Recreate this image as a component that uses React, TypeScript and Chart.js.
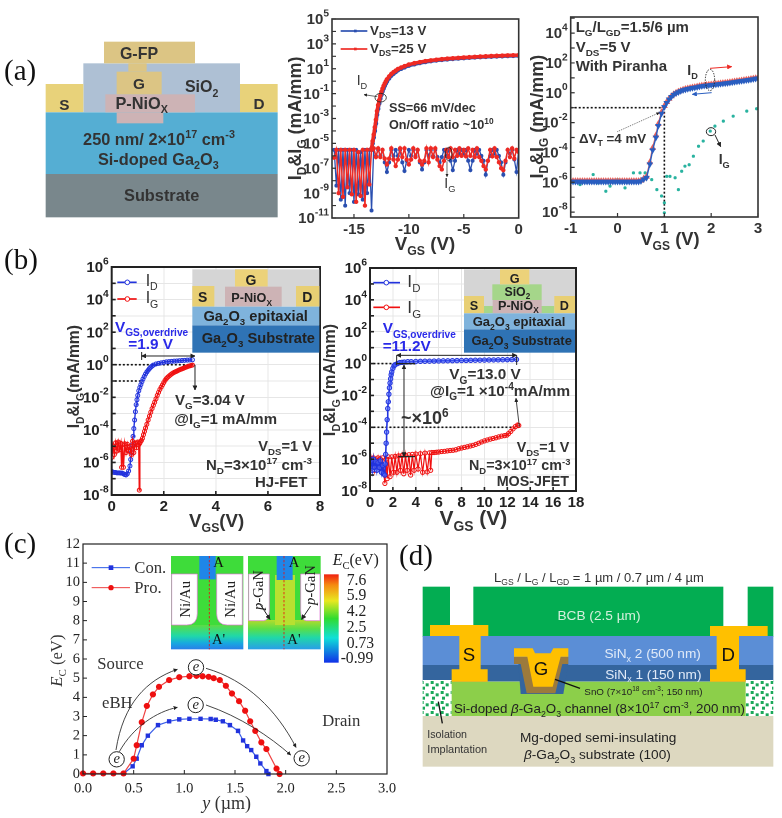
import React, { useEffect, useRef } from "react";
import { Chart, registerables } from "chart.js";

Chart.register(...registerables);

const SANS = "'Liberation Sans', Arial, sans-serif";
const SERIF = "'Liberation Serif', 'Times New Roman', serif";

// ---------- panel (a), middle ----------
const a1IdX = [-13.4,-13.3,-13.2,-13.1,-13,-12.9,-12.8,-12.7,-12.6,-12.5,-12.4,-12.3,-12.2,-12.1,-12,-11.8,-11.6,-11.4,-11.2,-11,-10.7,-10.4,-10,-9.5,-9,-8.5,-8,-7.5,-7,-6.5,-6,-5.5,-5,-4.5,-4,-3.5,-3,-2.5,-2,-1.5,-1,-0.5,0];
const a1Id13 = [3e-6,1e-5,3e-5,1e-4,4e-4,0.002,0.006,0.016,0.04,0.08,0.15,0.26,0.42,0.65,0.95,1.7,2.8,4,5.5,7.5,10,13,18,23,29,35,41,47,52,57,62,67,72,77,82,86,90,94,98,102,106,109,112];
const a1Id25 = [4e-6,1.5e-5,5e-5,2e-4,8e-4,0.004,0.012,0.03,0.07,0.14,0.25,0.42,0.65,0.95,1.4,2.4,3.8,5.3,7,9.5,12.5,16,22,28,34,41,47,53,59,65,70,75,80,85,90,95,100,105,109,113,118,122,126];
const a1IgX = [-16.8,-16.6,-16.4,-16.2,-16,-15.8,-15.6,-15.4,-15.2,-15,-14.8,-14.6,-14.4,-14.2,-14,-13.8,-13.6,-13.4,-13.2,-13,-12.8,-12.6,-12.4,-12.2,-12,-11.8,-11.6,-11.4,-11.2,-11,-10.8,-10.6,-10.4,-10.2,-10,-9.8,-9.6,-9.4,-9.2,-9,-8.8,-8.6,-8.4,-8.2,-8,-7.8,-7.6,-7.4,-7.2,-7,-6.8,-6.6,-6.4,-6.2,-6,-5.8,-5.6,-5.4,-5.2,-5,-4.8,-4.6,-4.4,-4.2,-4,-3.8,-3.6,-3.4,-3.2,-3,-2.8,-2.6,-2.4,-2.2,-2,-1.8,-1.6,-1.4,-1.2,-1,-0.8,-0.6,-0.4,-0.2,0];
const a1Ig13 = [3e-6,4e-9,3e-6,3e-10,3e-6,1e-10,3e-6,1e-9,3e-6,2e-10,3e-6,8e-10,2e-6,3e-10,3e-6,1e-9,3e-6,4e-11,4e-6,1e-6,3e-6,1e-6,3e-6,3e-7,5e-8,3e-7,3e-6,1e-6,3e-6,1e-6,3e-6,3e-7,6e-8,4e-7,3e-6,1e-6,3e-6,1e-6,3e-6,3e-7,8e-8,3e-7,3e-6,1e-6,3e-6,1e-6,3e-6,8e-7,3e-7,8e-7,3e-6,1e-6,3e-6,4e-7,7e-8,4e-7,3e-6,1.5e-6,3e-6,1.5e-6,3e-6,4e-7,7e-8,4e-7,3e-6,1.5e-6,3e-6,1e-6,4e-7,3e-8,4e-7,1e-6,3e-6,1.5e-6,3e-6,1e-6,3e-7,3e-8,3e-7,3e-6,1.5e-6,3e-6,5e-7,5e-8,3e-6];
const a1Ig25 = [7e-7,3e-6,1e-9,3e-6,5e-10,3e-6,3e-9,3e-6,8e-10,3e-6,2e-10,2e-6,6e-10,3e-6,1e-10,3e-6,5e-9,3e-6,4e-6,8e-7,4e-6,8e-7,3e-6,6e-7,2e-7,6e-7,4e-6,5e-7,1.5e-7,5e-7,4e-6,8e-7,4e-6,5e-7,2e-7,5e-7,4e-6,8e-7,3e-6,4e-7,2e-7,4e-7,4e-6,3e-7,4e-6,8e-7,4e-6,5e-7,1.5e-7,8e-8,4e-7,3e-6,8e-7,4e-6,8e-7,3e-6,1e-6,4e-6,1e-6,3e-6,9e-7,4e-6,1e-6,3e-6,8e-7,4e-6,8e-7,4e-7,1.5e-7,8e-8,4e-7,3e-6,9e-7,4e-6,8e-7,3e-7,1e-7,7e-8,4e-7,3e-6,8e-7,4e-6,6e-7,3e-6,2e-6];
const a1XTicks = [-15, -10, -5, 0];
const a1YTicks = [1e-11,1e-10,1e-9,1e-8,1e-7,1e-6,1e-5,1e-4,1e-3,1e-2,1e-1,1,10,100,1e3,1e4,1e5];
const a1YLabels = [-11,-9,-7,-5,-3,-1,1,3,5];

// ---------- panel (a), right ----------
const a2IdX = [-1,-0.95,-0.9,-0.85,-0.8,-0.75,-0.7,-0.65,-0.6,-0.55,-0.5,-0.45,-0.4,-0.35,-0.3,-0.25,-0.2,-0.15,-0.1,-0.05,0,0.05,0.1,0.15,0.2,0.25,0.3,0.35,0.4,0.45,0.5,0.56,0.62,0.69,0.75,0.82,0.87,0.94,1,1.05,1.1,1.15,1.2,1.25,1.3,1.35,1.4,1.45,1.5,1.55,1.6,1.65,1.7,1.75,1.8,1.85,1.9,1.95,2,2.05,2.1,2.15,2.2,2.25,2.3,2.35,2.4,2.45,2.5,2.55,2.6,2.65,2.7,2.75,2.8,2.85,2.9,2.95,3];
const a2IdFwd = [1.2e-6,1.2e-6,1.2e-6,1.2e-6,1.2e-6,1.2e-6,1.2e-6,1.2e-6,1.2e-6,1.2e-6,1.2e-6,1.2e-6,1.2e-6,1.2e-6,1.2e-6,1.2e-6,1.2e-6,1.2e-6,1.2e-6,1.2e-6,1.2e-6,1.2e-6,1.2e-6,1.2e-6,1.2e-6,1.2e-6,1.2e-6,1.2e-6,1.2e-6,1.2e-6,1.3e-6,1.8e-6,2.4e-6,2.2e-5,2e-4,1.4e-3,8e-3,0.05,0.13,0.24,0.4,0.58,0.8,1,1.2,1.4,1.6,1.8,1.95,2.1,2.25,2.4,2.6,2.8,3,3.15,3.3,3.45,3.6,3.7,3.85,4.05,4.25,4.4,4.6,4.8,5.1,5.4,5.7,6,6.3,6.6,7,7.4,7.8,8.3,8.8,9.4,10];
const a2IdBwd = [1.1e-6,1.1e-6,1.1e-6,1.1e-6,1.1e-6,1.1e-6,1.1e-6,1.1e-6,1.1e-6,1.1e-6,1.1e-6,1.1e-6,1.1e-6,1.1e-6,1.1e-6,1.1e-6,1.1e-6,1.1e-6,1.1e-6,1.1e-6,1.1e-6,1.1e-6,1.1e-6,1.1e-6,1.1e-6,1.1e-6,1.1e-6,1.1e-6,1.1e-6,1.1e-6,1.2e-6,1.6e-6,2e-6,1.6e-5,1.4e-4,1e-3,6e-3,0.04,0.11,0.21,0.36,0.53,0.74,0.93,1.1,1.3,1.5,1.65,1.8,1.95,2.1,2.25,2.4,2.6,2.8,2.95,3.05,3.2,3.35,3.45,3.6,3.75,3.95,4.1,4.3,4.5,4.75,5,5.3,5.6,5.9,6.2,6.5,6.9,7.3,7.7,8.2,8.8,9.3];
const a2IgX = [-0.98,-0.8,-0.59,-0.52,-0.41,-0.25,-0.16,0,0.09,0.16,0.34,0.48,0.59,0.73,0.84,0.94,1,1,1.05,1.12,1.23,1.3,1.37,1.44,1.53,1.62,1.73,1.83,1.98,2.08,2.26,2.47,2.76,2.97];
const a2Ig = [1e-6,7e-7,1.2e-6,3.3e-6,9e-7,2.5e-7,5.5e-7,1.5e-6,1.2e-6,4.2e-7,4.3e-6,4.3e-6,4.3e-6,1.5e-6,3.2e-7,1.2e-7,4.2e-8,9e-9,2.5e-6,2.5e-6,2e-6,3.2e-7,5.5e-6,1.2e-5,1.5e-5,5.6e-5,2.6e-4,5.8e-4,2.7e-3,5.8e-3,0.0126,0.027,0.059,0.085];
const a2XTicks = [-1, 0, 1, 2, 3];
const a2YTicks = [1e-8,1e-7,1e-6,1e-5,1e-4,1e-3,1e-2,1e-1,1,10,100,1e3,1e4,1e5];
const a2YLabels = [-8,-6,-4,-2,0,2,4];

// ---------- panel (b), left ----------
const b1IdX = [0,0.05,0.1,0.15,0.2,0.25,0.3,0.35,0.4,0.45,0.5,0.55,0.6,0.65,0.7,0.73,0.76,0.79,0.82,0.85,0.88,0.91,0.94,0.97,1,1.04,1.08,1.12,1.16,1.2,1.25,1.3,1.35,1.4,1.45,1.5,1.55,1.6,1.7,1.8,1.9,2,2.1,2.2,2.3,2.4,2.5,2.6,2.7,2.8,2.9,3,3.1];
const b1Id = [2.8e-7,2.5e-7,2.4e-7,2.4e-7,2.3e-7,2.3e-7,2.3e-7,2.2e-7,2.2e-7,2e-7,1.8e-7,1.7e-7,2e-7,3e-7,6e-7,1.5e-6,4e-6,1.2e-5,4e-5,1.2e-4,4e-4,1.3e-3,3.5e-3,7e-3,0.013,0.025,0.04,0.06,0.09,0.13,0.19,0.27,0.36,0.46,0.58,0.7,0.82,0.95,1.1,1.2,1.3,1.4,1.5,1.55,1.6,1.65,1.7,1.75,1.8,1.85,1.9,1.95,2];
const b1IgX = [0,0.05,0.1,0.15,0.2,0.25,0.3,0.35,0.38,0.41,0.45,0.5,0.55,0.6,0.65,0.7,0.75,0.8,0.85,0.9,0.95,1,1.04,1.06,1.08,1.1,1.14,1.18,1.22,1.26,1.3,1.35,1.4,1.45,1.5,1.55,1.6,1.65,1.7,1.75,1.8,1.85,1.9,1.95,2,2.05,2.1,2.15,2.2,2.25,2.3,2.35,2.4,2.45,2.5,2.55,2.6,2.65,2.7,2.75,2.8,2.85,2.9,2.95,3,3.05,3.1];
const b1Ig = [2e-6,1e-5,3e-6,1.6e-5,5e-6,1.8e-5,6e-6,1.5e-5,5e-7,1.2e-5,5e-7,1.4e-5,4e-6,1.3e-5,5e-6,1e-5,3e-6,2e-5,4e-6,1.6e-5,8e-6,1.8e-5,1.2e-5,2e-8,1.5e-5,1.8e-5,2.2e-5,3e-5,5e-5,8e-5,1.3e-4,2.2e-4,4e-4,7e-4,1.2e-3,2e-3,3.2e-3,5e-3,8e-3,0.013,0.02,0.03,0.042,0.058,0.08,0.11,0.14,0.17,0.2,0.235,0.27,0.305,0.34,0.37,0.4,0.44,0.48,0.52,0.56,0.6,0.65,0.7,0.75,0.8,0.85,0.9,0.95];
const b1XTicks = [0, 2, 4, 6, 8];
const bYTicks = [1e-8,1e-7,1e-6,1e-5,1e-4,1e-3,1e-2,1e-1,1,10,100,1e3,1e4,1e5,1e6];
const bYLabels = [-8,-6,-4,-2,0,2,4,6];
const b1GuideX = [0.12, 1.2];
const b1GuideLow = [0.1, 0.1];
const b1GuideTopX = [0.12, 3.2];
const b1GuideTop = [1, 1];

// ---------- panel (b), right ----------
const b2IdX = [0,0.1,0.2,0.3,0.4,0.5,0.6,0.7,0.8,0.9,1,1.1,1.2,1.28,1.33,1.37,1.41,1.45,1.5,1.55,1.6,1.65,1.7,1.75,1.8,1.85,1.9,2,2.1,2.2,2.4,2.6,2.8,3,3.3,3.6,4,4.4,4.8,5.2,5.6,6,6.4,6.8,7.2,7.6,8,8.4,8.8,9.2,9.6,10,10.4,10.8,11.2,11.6,12,12.4,12.8];
const b2Id = [3e-7,8e-7,2e-7,1e-6,3e-7,7e-7,2e-7,6e-7,3e-7,8e-7,1.5e-7,4e-7,1.2e-7,1e-7,5e-7,2e-6,1e-5,5e-5,3e-4,1.5e-3,4e-3,0.012,0.03,0.06,0.11,0.2,0.3,0.5,0.72,0.85,1,1.15,1.2,1.25,1.3,1.32,1.35,1.38,1.4,1.42,1.44,1.46,1.48,1.5,1.52,1.54,1.56,1.58,1.6,1.62,1.64,1.66,1.68,1.7,1.72,1.74,1.76,1.78,1.8];
const b2IgX = [0,0.1,0.2,0.3,0.4,0.5,0.6,0.7,0.8,0.9,1,1.1,1.2,1.3,1.4,1.5,1.6,1.75,1.9,2.05,2.2,2.35,2.5,2.65,2.8,2.95,3.1,3.25,3.4,3.55,3.7,3.85,4,4.2,4.4,4.6,4.8,5,5.2,5.3,5.4,5.6,5.8,6,6.25,6.5,6.75,7,7.25,7.5,7.75,8,8.25,8.5,8.75,9,9.25,9.5,9.75,10,10.25,10.5,10.75,11,11.25,11.5,11.75,11.95,12.1,12.3,12.5,12.7,12.9,13];
const b2Ig = [2.5e-7,1.1e-6,3e-7,1.2e-6,2e-7,9e-7,4e-7,1.2e-6,3e-7,1e-6,2.5e-7,1.2e-6,1.5e-7,3e-8,1e-6,6e-8,1.4e-6,8e-8,1.4e-6,1.5e-7,1.5e-6,1.5e-7,1.6e-6,2e-7,1.7e-6,1.2e-7,1.8e-6,2e-7,1.9e-6,1e-7,2e-6,2e-7,2.1e-6,2.4e-7,2.2e-6,1.5e-7,2.4e-6,1.6e-7,2.5e-6,2e-7,2.6e-6,2.6e-6,2.7e-6,2.8e-6,3e-6,3.1e-6,3.3e-6,3.5e-6,3.6e-6,3.9e-6,4.5e-6,5e-6,5.5e-6,6e-6,6.7e-6,7.4e-6,8.5e-6,1e-5,1.2e-5,1.4e-5,1.6e-5,1.8e-5,2e-5,2.2e-5,2.5e-5,2.8e-5,3e-5,3.2e-5,4e-5,5.5e-5,8e-5,1.1e-4,1.4e-4,1.3e-4];
const b2XTicks = [0,2,4,6,8,10,12,14,16,18];
const b2GuideTopX = [0.3, 4];
const b2GuideTop = [1, 1];
const b2GuideLowX = [0.3, 13];
const b2GuideLow = [1e-4, 1e-4];

// ---------- panel (c) ----------
const cConX = [0,0.1,0.2,0.3,0.4,0.49,0.53,0.58,0.64,0.74,0.85,0.95,1.05,1.16,1.26,1.31,1.38,1.45,1.53,1.58,1.62,1.66,1.71,1.75,1.81,1.83];
const cCon = [0.02,0.02,0.02,0.02,0.02,0.4,0.8,1.5,2,2.55,2.75,2.85,2.88,2.88,2.87,2.83,2.75,2.55,2.25,1.75,1.45,1.25,0.9,0.55,0.15,0];
const cProX = [0,0.1,0.2,0.3,0.4,0.5,0.53,0.58,0.63,0.69,0.75,0.85,0.95,1.05,1.12,1.18,1.24,1.29,1.35,1.41,1.47,1.54,1.6,1.65,1.7,1.76,1.81,1.91,1.94];
const cPro = [0.03,0.03,0.03,0.03,0.03,0.8,1.5,2.7,3.55,4.15,4.55,4.9,5.05,5.1,5.12,5.1,5.07,5,4.9,4.6,4.2,3.8,3.3,2.75,2.25,1.65,1.3,0.28,0];
const cXTicks = [0, 0.5, 1, 1.5, 2, 2.5, 3];
const cYTicks = [0,1,2,3,4,5,6,7,8,9,10,11,12];
const cBarLabels = ["7.6", "5.9", "4.2", "2.5", "0.73", "-0.99"];

const zip = (xs: number[], ys: number[]) => xs.map((x, i) => ({ x, y: ys[i] }));

type Box = { l: number; t: number; r: number; b: number };

function useChart(ref: React.RefObject<HTMLCanvasElement | null>, build: () => any) {
  useEffect(() => {
    if (!ref.current) return;
    const c = new Chart(ref.current, build());
    return () => c.destroy();
  }, []);
}

function config(o: {
  box: Box; xMin: number; xMax: number; xTicks: number[]; xFmt?: (v: number) => string; xPad?: number;
  yLog: boolean; yMin: number; yMax: number; yTicks: number[]; exps?: number[];
  font: any; color: string; grid: string; frame: number; datasets: any[];
}) {
  const { box } = o;
  const frame = {
    id: "frame",
    afterDraw(ch: any) {
      const a = ch.chartArea;
      const g = ch.ctx;
      g.save();
      g.strokeStyle = o.color;
      g.lineWidth = o.frame;
      g.strokeRect(a.left, a.top, a.right - a.left, a.bottom - a.top);
      // inward tick marks, placed by the scales
      g.lineWidth = Math.max(1, o.frame - 0.4);
      g.beginPath();
      ch.scales.x.ticks.forEach((t: any) => {
        const x = ch.scales.x.getPixelForValue(t.value);
        g.moveTo(x, a.bottom); g.lineTo(x, a.bottom - 4);
      });
      ch.scales.y.ticks.forEach((t: any) => {
        const y = ch.scales.y.getPixelForValue(t.value);
        g.moveTo(a.left, y); g.lineTo(a.left + 4, y);
      });
      g.stroke();
      // power-of-ten labels with a true superscript, placed by the y scale
      if (o.exps) {
        const size = o.font.size;
        g.fillStyle = o.color;
        g.textBaseline = "middle";
        g.textAlign = "right";
        o.exps.forEach((e) => {
          const y = ch.scales.y.getPixelForValue(Math.pow(10, e));
          g.font = `bold ${size * 0.68}px ${SANS}`;
          const w = g.measureText(String(e)).width;
          g.fillText(String(e), a.left - 3, y - size * 0.36);
          g.font = `bold ${size}px ${SANS}`;
          g.fillText("10", a.left - 3 - w, y + 1);
        });
      }
      g.restore();
    },
  };
  return {
    type: "scatter",
    data: { datasets: o.datasets },
    plugins: [frame],
    options: {
      responsive: false,
      animation: false,
      devicePixelRatio: 2,
      layout: { padding: { left: 0, top: box.t, right: 782 - box.r, bottom: 0 } },
      plugins: { legend: { display: false }, tooltip: { enabled: false } },
      scales: {
        x: {
          type: "linear", min: o.xMin, max: o.xMax,
          afterFit: (s: any) => { s.height = 818 - box.b; },
          afterBuildTicks: (s: any) => { s.ticks = o.xTicks.map((value) => ({ value })); },
          ticks: { font: o.font, color: o.color, padding: o.xPad ?? 3, maxRotation: 0, autoSkip: false,
            callback: (v: number) => (o.xFmt ? o.xFmt(v) : String(v)) },
          grid: { color: o.grid, drawTicks: false },
          border: { display: false },
        },
        y: {
          type: o.yLog ? "logarithmic" : "linear", min: o.yMin, max: o.yMax,
          afterFit: (s: any) => { s.width = box.l; },
          afterBuildTicks: (s: any) => { s.ticks = o.yTicks.map((value) => ({ value })); },
          ticks: { display: !o.exps, font: o.font, color: o.color, padding: 3, autoSkip: false, callback: (v: number) => String(v) },
          grid: { color: o.grid, drawTicks: false },
          border: { display: false },
        },
      },
    },
  };
}

const line = (data: any[], color: string, w: number, r: number, extra: any = {}) => ({
  data, showLine: true, borderColor: color, backgroundColor: color, borderWidth: w,
  pointRadius: r, pointBorderWidth: 1, pointBackgroundColor: color, pointBorderColor: color, tension: 0, ...extra,
});
const guide = (data: any[]) => ({
  data, showLine: true, borderColor: "#111", borderWidth: 1.6, borderDash: [2, 2], pointRadius: 0,
});

function Rich(p: { x: number; y: number; s: string; size: number; anchor?: string; weight?: any; fill?: string; family?: string; rotate?: boolean }) {
  const { x, y, s, size, anchor = "start", weight = "bold", fill = "#333", family = SANS, rotate } = p;
  const re = /_\{([^}]*)\}|\^\{([^}]*)\}|\*([^*]+)\*|([^_^*]+)/g;
  const parts: React.ReactNode[] = [];
  let level = 0;
  let m: RegExpExecArray | null;
  let i = 0;
  while ((m = re.exec(s))) {
    const target = m[1] !== undefined ? size * 0.28 : m[2] !== undefined ? -size * 0.38 : 0;
    const small = m[1] !== undefined || m[2] !== undefined;
    const txt = m[1] ?? m[2] ?? m[3] ?? m[4];
    parts.push(
      <tspan key={i++} dy={target - level} fontSize={small ? size * 0.66 : size} fontStyle={m[3] !== undefined ? "italic" : undefined}>
        {txt}
      </tspan>
    );
    level = target;
  }
  return (
    <text x={x} y={y} textAnchor={anchor as any} fontSize={size} fontWeight={weight} fontFamily={family} fill={fill} xmlSpace="preserve"
      transform={rotate ? `rotate(-90 ${x} ${y})` : undefined}>
      {parts}
    </text>
  );
}

const Z = (p: { x: number; y: number; children: React.ReactNode }) => (
  <g transform={`translate(${p.x} ${p.y}) scale(0.33333)`}>{p.children}</g>
);

function Arrow(p: { d: string; color?: string; w?: number; both?: boolean; dash?: string; head?: string }) {
  const head = p.head ?? "ah";
  return <path d={p.d} fill="none" stroke={p.color ?? "#222"} strokeWidth={p.w ?? 3} strokeDasharray={p.dash} markerEnd={`url(#${head})`} markerStart={p.both ? `url(#${head}s)` : undefined} />;
}

const GOLD = "#e8d27a";
const NIO = "#cdb3b5";
const GATE = "#dcc584";

function Overlay() {
  return (
    <svg width={782} height={818} style={{ position: "absolute", left: 0, top: 0 }}>
      <defs>
        {[["ah", "#222"], ["ar", "#ee2a24"], ["ab", "#2a5ec0"]].map(([id, c]) => (
          <React.Fragment key={id}>
            <marker id={id} markerWidth="5" markerHeight="5" refX="4.5" refY="2.5" orient="auto"><path d="M0 0 L5 2.5 L0 5 Z" fill={c} /></marker>
            <marker id={id + "s"} markerWidth="5" markerHeight="5" refX="0.5" refY="2.5" orient="auto"><path d="M5 0 L0 2.5 L5 5 Z" fill={c} /></marker>
          </React.Fragment>
        ))}
        <pattern id="dots" width="30" height="30" patternUnits="userSpaceOnUse">
          <rect width="30" height="30" fill="#fff" />
          <rect x="2" y="3" width="9" height="9" fill="#1aa85a" />
          <rect x="17" y="10" width="9" height="9" fill="#1aa85a" />
          <rect x="6" y="20" width="9" height="9" fill="#1aa85a" />
        </pattern>
        <linearGradient id="bar" x1="0" y1="0" x2="0" y2="1">
          <stop offset="0" stopColor="#f02010" /><stop offset="0.12" stopColor="#f58a10" /><stop offset="0.3" stopColor="#e8e820" />
          <stop offset="0.5" stopColor="#30dc30" /><stop offset="0.72" stopColor="#10e0d8" /><stop offset="1" stopColor="#1030e8" />
        </linearGradient>
        <linearGradient id="low" x1="0" y1="0" x2="0" y2="1">
          <stop offset="0" stopColor="#5bdc45" /><stop offset="0.45" stopColor="#20d8a8" /><stop offset="0.75" stopColor="#18a8e0" /><stop offset="1" stopColor="#2a7ee8" />
        </linearGradient>
        <linearGradient id="low2" x1="0" y1="0" x2="0" y2="1">
          <stop offset="0" stopColor="#b4dc2c" /><stop offset="0.3" stopColor="#5ade48" /><stop offset="0.6" stopColor="#20d8a8" /><stop offset="1" stopColor="#2a9ee8" />
        </linearGradient>
      </defs>

      {/* panel labels */}
      <text x={4} y={80} fontFamily={SERIF} fontSize={29} fill="#111">(a)</text>
      <text x={4} y={269} fontFamily={SERIF} fontSize={29} fill="#111">(b)</text>
      <text x={4} y={553} fontFamily={SERIF} fontSize={29} fill="#111">(c)</text>
      <text x={399} y={565} fontFamily={SERIF} fontSize={29} fill="#111">(d)</text>

      {/* (a) schematic */}
      <Z x={0} y={30}>
        <rect x={250} y={100} width={470} height={147} fill="#aec0d4" />
        <rect x={137} y={162} width={113} height={85} fill={GOLD} />
        <rect x={720} y={162} width={113} height={85} fill={GOLD} />
        <rect x={137} y={247} width={696} height={185} fill="#55aed3" />
        <rect x={137} y={432} width={696} height={130} fill="#79878c" />
        <rect x={316} y={193} width={269} height={54} fill={NIO} />
        <rect x={350} y={247} width={140} height={33} fill={NIO} />
        <rect x={350} y={125} width={135} height={68} fill={GATE} />
        <rect x={385} y={100} width={55} height={25} fill={GATE} />
        <rect x={312} y={35} width={273} height={65} fill={GATE} />
        <Rich x={417} y={88} s="G-FP" size={48} anchor="middle" />
        <Rich x={417} y={178} s="G" size={46} anchor="middle" />
        <Rich x={605} y={187} s="SiO_{2}" size={48} anchor="middle" />
        <Rich x={193} y={240} s="S" size={46} anchor="middle" />
        <Rich x={777} y={238} s="D" size={46} anchor="middle" />
        <Rich x={425} y={236} s="P-NiO_{X}" size={49} anchor="middle" />
        <Rich x={477} y={344} s="250 nm/ 2×10^{17} cm^{-3}" size={49} anchor="middle" />
        <Rich x={475} y={404} s="Si-doped Ga_{2}O_{3}" size={49} anchor="middle" />
        <Rich x={485} y={513} s="Substrate" size={49} anchor="middle" />
      </Z>

      {/* (a) middle */}
      <Z x={290} y={0}>
        <path d="M152 93 H232" stroke="#2a4fb0" strokeWidth={5} /><rect x={192} y={89} width={8} height={8} fill="#2a4fb0" />
        <path d="M152 147 H232" stroke="#ee2a24" strokeWidth={5} /><rect x={192} y={143} width={8} height={8} fill="#ee2a24" />
        <Rich x={240} y={104} s="V_{DS}=13 V" size={40} />
        <Rich x={240} y={158} s="V_{DS}=25 V" size={40} />
        <Rich x={200} y={254} s="I_{D}" size={42} weight="normal" />
        <Arrow d="M262 290 L222 284" w={2} />
        <ellipse cx={272} cy={293} rx={17} ry={13} fill="none" stroke="#222" strokeWidth={2.5} />
        <Rich x={297} y={335} s="SS=66 mV/dec" size={38} />
        <Rich x={297} y={387} s="On/Off ratio ~10^{10}" size={38} />
        <ellipse cx={476} cy={462} rx={10} ry={20} fill="none" stroke="#222" strokeWidth={2.5} />
        <Arrow d="M471 484 L471 530" w={2} />
        <Rich x={463} y={565} s="I_{G}" size={42} weight="normal" />
        <Rich x={32} y={355} s="I_{D}&I_{G} (mA/mm)" size={54} anchor="middle" rotate />
        <Rich x={405} y={750} s="V_{GS} (V)" size={56} anchor="middle" />
      </Z>

      {/* (a) right */}
      <Z x={530} y={0}>
        <Rich x={137} y={95} s="L_{G}/L_{GD}=1.5/6 µm" size={45} />
        <Rich x={137} y={155} s="V_{DS}=5 V" size={45} />
        <Rich x={137} y={214} s="With Piranha" size={45} />
        <Rich x={472} y={225} s="I_{D}" size={42} />
        <ellipse cx={540} cy={240} rx={14} ry={32} fill="none" stroke="#222" strokeWidth={3} strokeDasharray="4 4" />
        <Arrow d="M540 205 L605 200" color="#ee2a24" head="ar" w={3} />
        <Arrow d="M545 278 L487 283" color="#2a5ec0" head="ab" w={3} />
        <Rich x={147} y={428} s="ΔV_{T} =4 mV" size={40} />
        <Arrow d="M262 395 L388 338" w={2} dash="3 3" />
        <ellipse cx={543} cy={395} rx={14} ry={12} fill="none" stroke="#222" strokeWidth={3} />
        <Arrow d="M555 405 L572 440" w={3} />
        <Rich x={566} y={492} s="I_{G}" size={42} />
        <Rich x={40} y={350} s="I_{D}&I_{G} (mA/mm)" size={54} anchor="middle" rotate />
        <Rich x={420} y={736} s="V_{GS} (V)" size={55} anchor="middle" />
      </Z>

      {/* (b) left */}
      <Z x={0} y={250}>
        <rect x={577} y={58} width={381} height={112} fill="#d5d5d5" />
        <rect x={705} y={58} width={98} height={52} fill="#ecd27a" />
        <rect x={675} y={110} width={170} height={60} fill={NIO} />
        <rect x={577} y={108} width={66} height={62} fill="#e8cf74" />
        <rect x={888} y={108} width={70} height={62} fill="#e8cf74" />
        <rect x={577} y={170} width={381} height={56} fill="#7fb3dc" />
        <rect x={577} y={226} width={381} height={82} fill="#2f73b5" />
        <Rich x={753} y={104} s="G" size={42} anchor="middle" fill="#222" />
        <Rich x={608} y={156} s="S" size={42} anchor="middle" fill="#222" />
        <Rich x={922} y={156} s="D" size={42} anchor="middle" fill="#222" />
        <Rich x={755} y={156} s="P-NiO_{X}" size={38} anchor="middle" fill="#222" />
        <Rich x={767} y={214} s="Ga_{2}O_{3} epitaxial" size={44} anchor="middle" fill="#222" />
        <Rich x={775} y={279} s="Ga_{2}O_{3} Substrate" size={44} anchor="middle" fill="#222" />
        <path d="M352 97 H410" stroke="#2233dd" strokeWidth={5} /><circle cx={382} cy={97} r={7} fill="#fff" stroke="#2233dd" strokeWidth={3} />
        <path d="M352 147 H410" stroke="#f01010" strokeWidth={5} /><circle cx={382} cy={147} r={7} fill="#fff" stroke="#f01010" strokeWidth={3} />
        <Rich x={437} y={108} s="I_{D}" size={48} weight="normal" />
        <Rich x={437} y={160} s="I_{G}" size={48} weight="normal" />
        <Rich x={345} y={245} s="V_{GS,overdrive}" size={46} fill="#2a2ae8" />
        <Rich x={385} y={297} s="=1.9 V" size={46} fill="#2a2ae8" />
        <Arrow d="M425 318 L585 318" both w={3} />
        <path d="M425 306 V330" stroke="#222" strokeWidth={3} />
        <Arrow d="M585 345 L585 420" w={3} />
        <Rich x={525} y={465} s="V_{G}=3.04 V" size={45} />
        <Rich x={523} y={522} s="@I_{G}=1 mA/mm" size={45} />
        <Rich x={775} y={604} s="V_{DS}=1 V" size={44} />
        <Rich x={618} y={660} s="N_{D}=3×10^{17} cm^{-3}" size={45} />
        <Rich x={765} y={712} s="HJ-FET" size={45} />
        <Rich x={238} y={380} s="I_{D}&I_{G}(mA/mm)" size={47} anchor="middle" rotate />
        <Rich x={650} y={830} s="V_{GS}(V)" size={56} anchor="middle" />
      </Z>

      {/* (b) right */}
      <Z x={320} y={250}>
        <rect x={432} y={58} width={333} height={132} fill="#d5d5d5" />
        <rect x={490} y={168} width={213} height={22} fill="#a5d68a" />
        <rect x={517} y={103} width={148} height={47} fill="#a5d68a" />
        <rect x={518} y={150} width={147} height={40} fill={NIO} />
        <rect x={540} y={58} width={88} height={45} fill="#ecd27a" />
        <rect x={432} y={138} width={60} height={52} fill="#e8cf74" />
        <rect x={703} y={138} width={62} height={52} fill="#e8cf74" />
        <rect x={432} y={190} width={333} height={48} fill="#7fb3dc" />
        <rect x={432} y={238} width={333} height={70} fill="#2f73b5" />
        <Rich x={584} y={98} s="G" size={38} anchor="middle" fill="#222" />
        <Rich x={592} y={137} s="SiO_{2}" size={37} anchor="middle" fill="#222" />
        <Rich x={462} y={180} s="S" size={38} anchor="middle" fill="#222" />
        <Rich x={733} y={180} s="D" size={38} anchor="middle" fill="#222" />
        <Rich x={595} y={179} s="P-NiO_{X}" size={38} anchor="middle" fill="#222" />
        <Rich x={597} y={228} s="Ga_{2}O_{3} epitaxial" size={39} anchor="middle" fill="#222" />
        <Rich x={605} y={285} s="Ga_{2}O_{3} Substrate" size={39} anchor="middle" fill="#222" />
        <path d="M160 98 H240" stroke="#2233dd" strokeWidth={5} /><circle cx={199} cy={98} r={7} fill="#fff" stroke="#2233dd" strokeWidth={3} />
        <path d="M160 172 H240" stroke="#f01010" strokeWidth={5} /><circle cx={199} cy={172} r={7} fill="#fff" stroke="#f01010" strokeWidth={3} />
        <Rich x={262} y={112} s="I_{D}" size={52} weight="normal" />
        <Rich x={262} y={188} s="I_{G}" size={52} weight="normal" />
        <Rich x={188} y={250} s="V_{GS,overdrive}" size={46} fill="#2a2ae8" />
        <Rich x={188} y={302} s="=11.2V" size={46} fill="#2a2ae8" />
        <Arrow d="M230 316 L590 316" both w={3} />
        <path d="M230 316 V345 M590 316 V345" stroke="#222" strokeWidth={3} />
        <Arrow d="M252 345 L252 620" both w={3} />
        <path d="M235 620 H285 M228 341 H285" stroke="#222" strokeWidth={4} />
        <Rich x={243} y={522} s="~×10^{6}" size={54} />
        <Rich x={388} y={388} s="V_{G}=13.0 V" size={46} />
        <Rich x={330} y={437} s="@I_{G}=1 ×10^{-4}mA/mm" size={46} />
        <Arrow d="M598 530 L588 445" w={2.5} />
        <Rich x={590} y={607} s="V_{DS}=1 V" size={43} />
        <Rich x={447} y={660} s="N_{D}=3×10^{17} cm^{-3}" size={43} />
        <Rich x={530} y={708} s="MOS-JFET" size={43} />
        <Rich x={46} y={390} s="I_{D}&I_{G} (mA/mm)" size={49} anchor="middle" rotate />
        <Rich x={460} y={825} s="V_{GS} (V)" size={63} anchor="middle" />
      </Z>

      {/* (c) */}
      <Z x={0} y={530}>
        <path d="M275 113 H390" stroke="#2a5be8" strokeWidth={3} /><rect x={326} y={106} width={14} height={14} fill="#2233dd" />
        <path d="M275 173 H390" stroke="#ee4040" strokeWidth={3} /><circle cx={333} cy={173} r={8} fill="#ee1010" />
        <Rich x={403} y={130} s="Con." size={50} weight="normal" family={SERIF} />
        <Rich x={403} y={190} s="Pro." size={50} weight="normal" family={SERIF} />
        {/* left inset */}
        <rect x={513} y={78} width={217} height={207} fill="#3edc3a" />
        <rect x={513} y={285} width={217} height={73} fill="url(#low)" />
        <rect x={598} y={78} width={49} height={70} fill="#1f86e8" />
        <path d="M515 132 H592 V250 Q592 285 560 285 H515 Z M727 132 H650 V250 Q650 285 682 285 H727 Z" fill="#fff" stroke="#e070d8" strokeWidth={2} />
        <path d="M628 78 V358" stroke="#ee1010" strokeWidth={2.5} strokeDasharray="7 5" />
        <text transform="translate(570 208) rotate(-90)" textAnchor="middle" fontFamily={SERIF} fontSize={44} fill="#222">Ni/Au</text>
        <text transform="translate(705 208) rotate(-90)" textAnchor="middle" fontFamily={SERIF} fontSize={44} fill="#222">Ni/Au</text>
        <Rich x={640} y={110} s="A" size={44} weight="normal" family={SERIF} fill="#111" />
        <Rich x={636} y={342} s="A'" size={44} weight="normal" family={SERIF} fill="#111" />
        {/* right inset */}
        <rect x={744} y={78} width={218} height={212} fill="#3edc3a" />
        <rect x={744} y={270} width={218} height={88} fill="url(#low2)" />
        <rect x={825} y={135} width={60} height={150} fill="#b8e030" />
        <rect x={830} y={78} width={48} height={72} fill="#1f86e8" />
        <path d="M746 132 H808 V240 Q808 272 790 272 H746 Z M960 132 H902 V240 Q902 272 920 272 H960 Z" fill="#fff" stroke="#e070d8" strokeWidth={2} />
        <path d="M852 78 V358" stroke="#ee1010" strokeWidth={2.5} strokeDasharray="7 5" />
        <text transform="translate(790 180) rotate(-90)" textAnchor="middle" fontFamily={SERIF} fontSize={44} fill="#222"><tspan fontStyle="italic">p</tspan>-GaN</text>
        <text transform="translate(945 165) rotate(-90)" textAnchor="middle" fontFamily={SERIF} fontSize={44} fill="#222"><tspan fontStyle="italic">p</tspan>-GaN</text>
        <Arrow d="M780 222 L810 268" w={3} />
        <Arrow d="M932 228 L905 268" w={3} />
        <Rich x={866} y={110} s="A" size={44} weight="normal" family={SERIF} fill="#111" />
        <Rich x={862} y={342} s="A'" size={44} weight="normal" family={SERIF} fill="#111" />
        {/* colour bar */}
        <rect x={972} y={133} width={44} height={265} fill="url(#bar)" />
        <Rich x={998} y={104} s="*E*_{C}(eV)" size={48} weight="normal" family={SERIF} fill="#222" />
        {cBarLabels.map((t, i) => (
          <text key={t} x={t.startsWith("-") ? 1022 : 1040} y={164 + i * 47.2} fontFamily={SERIF} fontSize={47} fill="#222">{t}</text>
        ))}
        {/* energy-barrier notes */}
        <Rich x={292} y={416} s="Source" size={50} weight="normal" family={SERIF} />
        <Rich x={306} y={535} s="eBH" size={50} weight="normal" family={SERIF} />
        <Rich x={967} y={588} s="Drain" size={50} weight="normal" family={SERIF} />
        <Arrow d="M348 660 C370 520 440 450 532 418" w={2.5} />
        <Arrow d="M358 665 C400 590 470 545 532 532" w={2.5} />
        <Arrow d="M618 415 C740 450 830 540 888 652" w={2.5} />
        <Arrow d="M618 525 C720 560 810 620 872 675" w={2.5} />
        {[[350, 688], [588, 412], [587, 525], [905, 685]].map(([cx, cy]) => (
          <g key={cx}>
            <circle cx={cx} cy={cy} r={23} fill="#fff" stroke="#222" strokeWidth={3} />
            <text x={cx} y={cy + 11} textAnchor="middle" fontFamily={SERIF} fontStyle="italic" fontSize={44} fill="#222">e</text>
          </g>
        ))}
        <Rich x={185} y={392} s="*E*_{C} (eV)" size={50} anchor="middle" weight="normal" family={SERIF} rotate />
        <Rich x={680} y={838} s="*y* (µm)" size={54} anchor="middle" weight="normal" family={SERIF} />
      </Z>

      {/* (d) */}
      <Z x={400} y={540}>
        <Rich x={597} y={125} s="L_{GS} / L_{G} / L_{GD} = 1 µm / 0.7 µm / 4 µm" size={39} anchor="middle" weight="normal" />
        <rect x={68} y={140} width={82} height={150} fill="#03ad52" />
        <rect x={220} y={140} width={750} height={150} fill="#03ad52" />
        <rect x={1043} y={140} width={77} height={150} fill="#03ad52" />
        <rect x={68} y={288} width={1052} height={87} fill="#5b8ed6" />
        <rect x={68} y={375} width={1052} height={50} fill="#34659e" />
        <rect x={68} y={420} width={87} height={108} fill="url(#dots)" />
        <rect x={1037} y={420} width={83} height={108} fill="url(#dots)" />
        <rect x={155} y={425} width={882} height={103} fill="#8ccf4a" />
        <rect x={68} y={528} width={1052} height={152} fill="#ddd8c0" />
        <path d="M90 255 H265 V288 H242 V388 H263 V425 H155 V388 H178 V288 H90 Z" fill="#ffc000" />
        <path d="M930 258 H1103 V288 H1017 V388 H1037 V425 H930 V388 H950 V288 H930 Z" fill="#ffc000" />
        <path d="M355 372 H505 L490 462 H362 Z" fill="#34659e" />
        <path d="M342 350 H505 V372 H487 L466 460 H380 L362 372 H342 Z" fill="#9c7a3c" />
        <path d="M342 325 H398 L405 340 H452 L460 325 H505 V350 H482 L458 440 H400 L382 350 H342 Z" fill="#ffc000" />
        <Rich x={207} y={362} s="S" size={56} anchor="middle" weight="normal" fill="#111" />
        <Rich x={985} y={362} s="D" size={56} anchor="middle" weight="normal" fill="#111" />
        <Rich x={423} y={405} s="G" size={56} anchor="middle" weight="normal" fill="#111" />
        <Rich x={597} y={241} s="BCB (2.5 µm)" size={41} anchor="middle" weight="normal" fill="#d4f0dc" />
        <Rich x={758} y={354} s="SiN_{x} 2 (500 nm)" size={41} anchor="middle" weight="normal" fill="#e0eaf8" />
        <Rich x={760} y={416} s="SiN_{x} 1 (150 nm)" size={41} anchor="middle" weight="normal" fill="#e0eaf8" />
        <path d="M465 418 L540 445" stroke="#111" strokeWidth={4} />
        <Rich x={553} y={464} s="SnO (7×10^{18} cm^{-3}; 150 nm)" size={29.5} weight="normal" fill="#222" />
        <Rich x={162} y={520} s="Si-doped *β*-Ga_{2}O_{3} channel (8×10^{17} cm^{-3}, 200 nm)" size={40} weight="normal" fill="#222" />
        <path d="M115 485 L127 550" stroke="#111" strokeWidth={4} />
        <Rich x={82} y={595} s="Isolation" size={32} weight="normal" fill="#333" />
        <Rich x={82} y={638} s="Implantation" size={33} weight="normal" fill="#333" />
        <Rich x={360} y={606} s="Mg-doped semi-insulating" size={41} weight="normal" fill="#222" />
        <Rich x={372} y={657} s="*β*-Ga_{2}O_{3} substrate (100)" size={41} weight="normal" fill="#222" />
      </Z>
    </svg>
  );
}

const canvasStyle: React.CSSProperties = { position: "absolute", left: 0, top: 0, width: 782, height: 818 };
const TICK = { family: SANS, size: 15, weight: "bold" as const };
const DARK = "#333";
const OPEN = "rgba(255,255,255,0)";

export default function App() {
  const a1 = useRef<HTMLCanvasElement>(null);
  const a2 = useRef<HTMLCanvasElement>(null);
  const b1 = useRef<HTMLCanvasElement>(null);
  const b2 = useRef<HTMLCanvasElement>(null);
  const c = useRef<HTMLCanvasElement>(null);

  // Chart.js paints the first dataset last, so the series meant to lie on top comes first.
  useChart(a1, () =>
    config({
      box: { l: 332, t: 19, r: 518.7, b: 218 }, xMin: -17, xMax: 0, xTicks: a1XTicks,
      yLog: true, yMin: 1e-11, yMax: 1e5, yTicks: a1YTicks, exps: a1YLabels,
      font: TICK, color: DARK, grid: "transparent", frame: 1.6,
      datasets: [
        line(zip(a1IdX, a1Id25), "#ee2a24", 3.5, 1.8),
        line(zip(a1IgX, a1Ig25), "#ee2a24", 1.5, 1.7),
        line(zip(a1IdX, a1Id13), "#2a4fb0", 3.5, 1.8),
        line(zip(a1IgX, a1Ig13), "#2a4fb0", 1.3, 1.5),
      ],
    })
  );
  useChart(a2, () =>
    config({
      box: { l: 570.7, t: 17, r: 758, b: 217 }, xMin: -1, xMax: 3, xTicks: a2XTicks,
      yLog: true, yMin: 4.7e-9, yMax: 1.2e5, yTicks: a2YTicks, exps: a2YLabels,
      font: TICK, color: DARK, grid: "transparent", frame: 1.6,
      datasets: [
        line(zip(a2IdX, a2IdBwd), "#2a5ec0", 1.4, 2.8, { pointStyle: "triangle", pointRotation: 180 }),
        line(zip(a2IdX, a2IdFwd), "#e8605a", 1.4, 3, { pointStyle: "triangle" }),
        { data: zip(a2IgX, a2Ig), showLine: false, pointRadius: 1.1, pointBackgroundColor: "#2ab3a0", pointBorderColor: "#2ab3a0" },
        guide(zip([-1, 1], [0.1, 0.1])),
        guide(zip([1, 1], [0.1, 4.7e-9])),
      ],
    })
  );
  useChart(b1, () =>
    config({
      box: { l: 111.7, t: 267, r: 320, b: 495 }, xMin: 0, xMax: 8, xTicks: b1XTicks,
      yLog: true, yMin: 1e-8, yMax: 1e6, yTicks: bYTicks, exps: bYLabels,
      font: TICK, color: "#222", grid: "#e6e6e6", frame: 2,
      datasets: [
        line(zip(b1IgX, b1Ig), "#f01010", 1.4, 2, { pointBackgroundColor: OPEN }),
        line(zip(b1IdX, b1Id), "#2233dd", 1.4, 2, { pointBackgroundColor: OPEN }),
        guide(zip(b1GuideX, b1GuideLow)),
        guide(zip(b1GuideTopX, b1GuideTop)),
      ],
    })
  );
  useChart(b2, () =>
    config({
      box: { l: 370, t: 268, r: 576, b: 491 }, xMin: 0, xMax: 18, xTicks: b2XTicks,
      yLog: true, yMin: 1e-8, yMax: 1e6, yTicks: bYTicks, exps: bYLabels,
      font: TICK, color: "#222", grid: "#e6e6e6", frame: 2,
      datasets: [
        line(zip(b2IdX, b2Id), "#2233dd", 1.6, 2.2, { pointBackgroundColor: "rgba(80,110,255,0.5)" }),
        line(zip(b2IgX, b2Ig), "#f01010", 1.2, 2.1, { pointBackgroundColor: OPEN }),
        guide(zip(b2GuideTopX, b2GuideTop)),
        guide(zip(b2GuideLowX, b2GuideLow)),
      ],
    })
  );
  useChart(c, () =>
    config({
      box: { l: 83, t: 544, r: 387, b: 774 }, xMin: 0, xMax: 3, xTicks: cXTicks, xFmt: (v) => v.toFixed(1), xPad: 6,
      yLog: false, yMin: 0, yMax: 12, yTicks: cYTicks,
      font: { family: SERIF, size: 14.5 }, color: "#222", grid: "transparent", frame: 1.2,
      datasets: [
        line(zip(cProX, cPro), "#ee4040", 1.2, 2.6, { pointBackgroundColor: "#ee1010", pointBorderColor: "#ee1010", clip: false }),
        line(zip(cConX, cCon), "#3a5ee8", 1.2, 2.4, { pointStyle: "rect", pointBackgroundColor: "#2233dd", pointBorderColor: "#2233dd", clip: false }),
      ],
    })
  );

  return (
    <div style={{ position: "absolute", left: 0, top: 0, width: 782, height: 818, overflow: "hidden", background: "#fff" }}>
      <canvas ref={a1} width={782} height={818} style={canvasStyle} />
      <canvas ref={a2} width={782} height={818} style={canvasStyle} />
      <canvas ref={b1} width={782} height={818} style={canvasStyle} />
      <canvas ref={b2} width={782} height={818} style={canvasStyle} />
      <canvas ref={c} width={782} height={818} style={canvasStyle} />
      <Overlay />
    </div>
  );
}
